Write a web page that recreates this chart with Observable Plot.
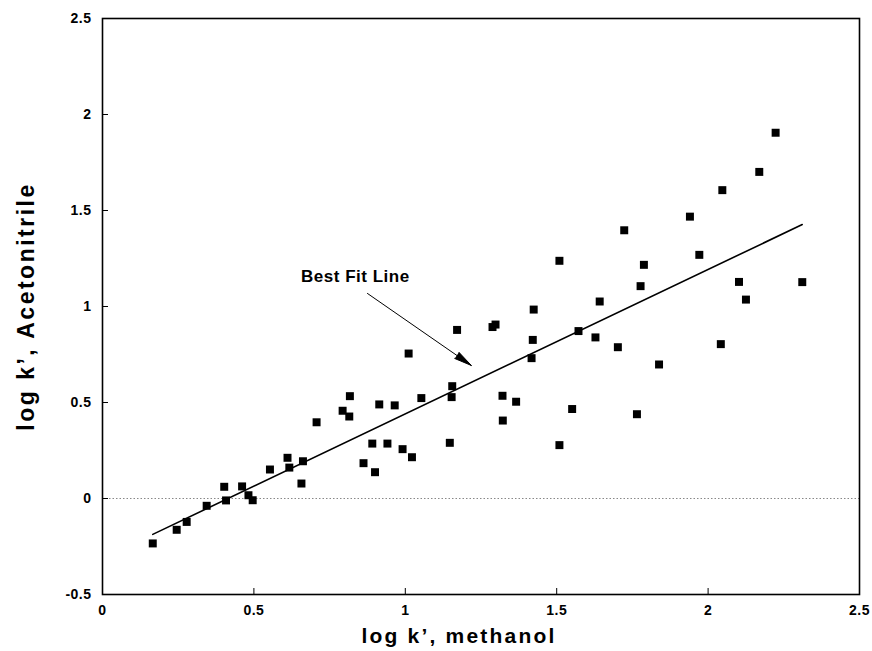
<!DOCTYPE html>
<html>
<head>
<meta charset="utf-8">
<script src="https://cdn.jsdelivr.net/npm/d3@7"></script>
<script src="https://cdn.jsdelivr.net/npm/@observablehq/plot@0.6"></script>
<style>
  html, body { margin: 0; padding: 0; background: #fff; }
</style>
</head>
<body>
<div id="chart"></div>
<script>
// Retention: log k' measured in methanol vs. acetonitrile mobile phases
const methanol = [
  0.166, 0.245, 0.278, 0.344, 0.402, 0.408, 0.461, 0.482, 0.496, 0.553,
  0.611, 0.617, 0.662, 0.657, 0.707, 0.793, 0.815, 0.817, 0.862, 0.891,
  0.900, 0.914, 0.941, 0.965, 0.991, 1.022, 1.011, 1.053, 1.147, 1.153,
  1.155, 1.171, 1.288, 1.298, 1.321, 1.322, 1.366, 1.417, 1.421, 1.424,
  1.509, 1.509, 1.551, 1.572, 1.628, 1.642, 1.702, 1.723, 1.765, 1.777,
  1.788, 1.838, 1.940, 1.971, 2.042, 2.047, 2.102, 2.125, 2.169, 2.223,
  2.311
];
const acetonitrile = [
  -0.234, -0.163, -0.122, -0.038, 0.061, -0.010, 0.063, 0.017, -0.009, 0.151,
  0.212, 0.161, 0.194, 0.078, 0.397, 0.457, 0.427, 0.533, 0.184, 0.286,
  0.137, 0.490, 0.286, 0.485, 0.257, 0.215, 0.755, 0.523, 0.290, 0.528,
  0.585, 0.878, 0.893, 0.906, 0.535, 0.406, 0.504, 0.731, 0.826, 0.984,
  1.238, 0.278, 0.466, 0.872, 0.839, 1.026, 0.788, 1.397, 0.439, 1.106,
  1.217, 0.698, 1.468, 1.269, 0.804, 1.606, 1.128, 1.036, 1.701, 1.905,
  1.127
];

const xTicks = [0, 0.5, 1, 1.5, 2, 2.5];
const yTicks = [-0.5, 0, 0.5, 1, 1.5, 2, 2.5];
const xTitle = ["log k\u2019, methanol"];
const yTitle = ["log k\u2019, Acetonitrile"];

// Annotation pointing at the regression line
const noteText = ["Best Fit Line"];
const notePos = [0.835, 1.156];
const arrowFrom = [0.875, 1.068];
const arrowTo = [1.218, 0.693];

const points = methanol.map((x, i) => ({x, y: acetonitrile[i]}));
const fmt = d => String(d);

const chart = Plot.plot({
  width: 872,
  height: 651,
  marginLeft: 102,
  marginRight: 13,
  marginTop: 18,
  marginBottom: 57,
  style: {
    fontFamily: "'Liberation Sans', Arial, Helvetica, sans-serif",
    background: "#fff",
    color: "#000"
  },
  x: {domain: [0, 2.5]},
  y: {domain: [-0.5, 2.5]},
  marks: [
    Plot.ruleY([0], {stroke: "#888", strokeWidth: 1, strokeDasharray: "1.5,2"}),
    Plot.axisX({ticks: xTicks, tickSize: -6, tickPadding: 17, tickFormat: fmt,
      fontSize: 14, fontWeight: "bold", label: null}),
    Plot.axisY({ticks: yTicks, tickSize: -6, tickPadding: 17, tickFormat: fmt,
      fontSize: 14, fontWeight: "bold", label: null}),
    Plot.frame({strokeWidth: 1.6}),
    Plot.linearRegressionY(points, {x: "x", y: "y", ci: 0, stroke: "#000", strokeWidth: 1.6}),
    Plot.dot(points, {x: "x", y: "y", symbol: "square", r: 4.5, fill: "#000", stroke: "none"}),
    Plot.arrow([0], {
      x1: () => arrowFrom[0], y1: () => arrowFrom[1],
      x2: () => arrowTo[0], y2: () => arrowTo[1],
      stroke: "#000", fill: "#000", strokeWidth: 1,
      headAngle: 24, headLength: 27
    }),
    Plot.text(noteText, {
      x: () => notePos[0], y: () => notePos[1], text: d => d,
      fontSize: 17, fontWeight: "bold"
    }),
    Plot.text(xTitle, {
      frameAnchor: "bottom", dy: 42, dx: -22, textAnchor: "middle", lineAnchor: "middle",
      text: d => d, fontSize: 21, fontWeight: "bold"
    }),
    Plot.text(yTitle, {
      frameAnchor: "left", dx: -76, rotate: -90, textAnchor: "middle", lineAnchor: "middle",
      text: d => d, fontSize: 23, fontWeight: "bold"
    })
  ]
});

// Wider tracking for the bold labels
const svg = d3.select(chart);
svg.selectAll('g[aria-label="x-axis tick label"] text, g[aria-label="y-axis tick label"] text')
  .attr("letter-spacing", "0.5px");
svg.selectAll("text").each(function () {
  const t = this.textContent;
  if (t === xTitle[0]) d3.select(this).attr("letter-spacing", "2.2px");
  else if (t === yTitle[0]) d3.select(this).attr("letter-spacing", "2.5px");
  else if (t === noteText[0]) d3.select(this).attr("letter-spacing", "0.5px");
});

document.getElementById("chart").appendChild(chart);
</script>
</body>
</html>
